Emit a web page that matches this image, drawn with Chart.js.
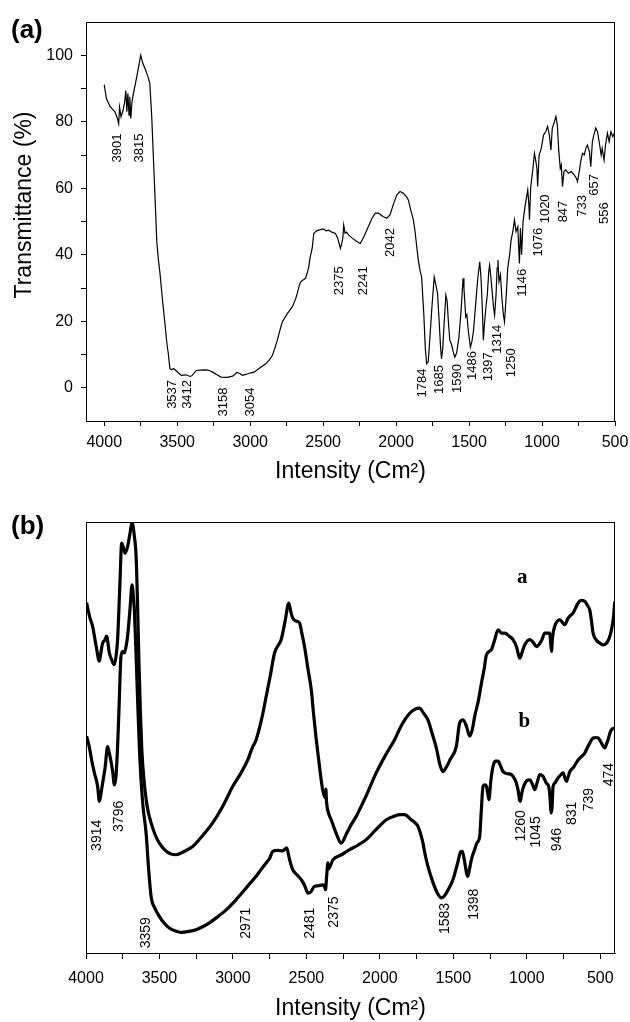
<!DOCTYPE html>
<html>
<head>
<meta charset="utf-8">
<script src="https://cdn.jsdelivr.net/npm/chart.js@4.4.1/dist/chart.umd.min.js"></script>
<style>
  html, body { margin: 0; padding: 0; background: #fff; }
  #wrap { position: relative; width: 630px; height: 1022px; }
  canvas { position: absolute; left: 0; }
  #chartA { top: 0; }
  #chartB { top: 490px; }
</style>
</head>
<body>
<div id="wrap">
  <canvas id="chartA" width="630" height="490"></canvas>
  <canvas id="chartB" width="630" height="532"></canvas>
</div>
<script>
// ---- panel (a): transmittance spectrum ----
const waveA = [4000, 3985, 3961, 3927, 3910, 3901, 3895, 3885, 3870, 3860, 3852, 3845, 3838, 3830, 3825, 3818, 3810, 3802,
  3775, 3750, 3735, 3718, 3700, 3688, 3675, 3662, 3650, 3640, 3630, 3618, 3600, 3584, 3570, 3561, 3550, 3537, 3525, 3500,
  3472, 3440, 3412, 3400, 3370, 3340, 3302, 3280, 3257, 3230, 3200, 3158, 3120, 3091, 3070, 3054, 3030, 2995, 2973, 2940,
  2893, 2870, 2848, 2830, 2814, 2795, 2780, 2750, 2712, 2690, 2678, 2665, 2655, 2640, 2620, 2600, 2590, 2575, 2564, 2545,
  2530, 2500, 2480, 2462, 2440, 2416, 2400, 2382, 2375, 2365, 2359, 2350, 2340, 2325, 2300, 2270, 2245, 2220, 2190, 2165,
  2143, 2120, 2090, 2064, 2042, 2020, 1995, 1973, 1950, 1930, 1916, 1900, 1882, 1870, 1860, 1848, 1835, 1825, 1810, 1800,
  1791, 1780, 1770, 1755, 1739, 1728, 1716, 1705, 1695, 1689, 1680, 1670, 1659, 1650, 1642, 1632, 1620, 1610, 1598, 1585,
  1570, 1555, 1541, 1535, 1523, 1515, 1505, 1491, 1480, 1470, 1455, 1440, 1427, 1418, 1410, 1402, 1395, 1385, 1375, 1365,
  1359, 1350, 1340, 1332, 1325, 1315, 1308, 1302, 1295, 1285, 1275, 1265, 1257, 1245, 1235, 1222, 1212, 1200, 1189, 1178,
  1166, 1160, 1155, 1148, 1140, 1130, 1115, 1098, 1090, 1086, 1078, 1065, 1052, 1042, 1035, 1030, 1020, 1005, 990, 975,
  962, 950, 939, 930, 915, 905, 895, 885, 875, 868, 860, 850, 837, 820, 800, 780, 765, 757, 745, 735, 723, 710, 700, 689,
  675, 666, 655, 645, 632, 620, 605, 595, 588, 575, 565, 552, 540, 528, 515, 500];
const transA = [91.1, 87, 84.6, 83, 81, 79.4, 84.4, 81.5, 83.6, 86, 89.4, 83, 88.5, 82, 87.5, 81, 86, 88,
  94, 100, 97.5, 95.7, 93.5, 91.6, 82, 68, 55, 44, 39, 34.4, 26, 19.3, 13, 10.3, 5.7, 5.4, 5.8, 4.8,
  3.7, 3.9, 3.4, 3.6, 5.2, 5.3, 5.4, 5.2, 4.7, 4.0, 3.2, 3.1, 3.5, 4.6, 4.3, 3.7, 4.0, 4.5, 4.7, 5.8,
  7.2, 8.3, 9.7, 12, 14.3, 17.5, 19.8, 22, 24.3, 26.5, 28.3, 30.5, 31.8, 32.3, 32.9, 36, 39, 42, 46.4, 47.2,
  47.4, 47.8, 47.2, 47.4, 46.8, 46.4, 45, 41.9, 43, 45, 48.9, 46.5, 46.8, 45.9, 45, 44, 43.4, 45.5, 48.5, 51,
  52.5, 52.5, 51.5, 51, 52, 55, 58, 59, 58.5, 57.5, 56.5, 53.5, 50.5, 47, 43, 38.4, 35, 33.3, 22, 12,
  7.2, 7.8, 14, 24, 33.3, 31, 28.3, 20, 12, 8.7, 12, 20, 27.8, 26, 20, 14.3, 13, 11, 9.2, 10.5,
  15, 23, 32.9, 30, 21.3, 22, 17, 12.2, 14, 17, 25, 33, 37.9, 33, 25, 14.3, 19, 24, 28, 35,
  36.9, 33, 28, 24, 21.8, 28, 36, 38.4, 32, 34, 27, 22, 19.8, 28, 36, 40, 44.4, 47, 50.5, 47,
  48.4, 42, 37.4, 48, 40, 50, 55, 59.5, 55, 50.5, 60, 65, 70.5, 68, 66, 60.5, 70, 72, 76, 77,
  78.6, 76, 71.5, 78, 80, 81.6, 79, 71, 66, 67, 60.5, 65, 65.5, 64.5, 65, 64, 63, 62, 65, 68, 70.5, 70, 72, 73,
  71, 66.5, 74, 76, 78.1, 77, 73, 70, 72, 68.5, 73, 76.6, 74, 77, 75.5, 77];

const xTicksA = [500, 750, 1000, 1250, 1500, 1750, 2000, 2250, 2500, 2750, 3000, 3250, 3500, 3750, 4000];
const yTicksA = [0, 10, 20, 30, 40, 50, 60, 70, 80, 90, 100];

// peak labels of (a): text, anchor wavenumber, anchor transmittance
const peakTextA = ['3901', '3815', '3537', '3412', '3158', '3054', '2375', '2241', '2042', '1784', '1685', '1590',
  '1486', '1397', '1314', '1250', '1146', '1076', '1020', '847', '733', '657', '556'];
const peakXA = [3913, 3762, 3536, 3427, 3180, 2995, 2386, 2221, 2036, 1817, 1701, 1577,
  1475, 1365, 1303, 1208, 1132, 1023, 975, 851, 721, 639, 571];
const peakYA = [72.1, 72.1, -2.0, -2.0, -4.3, -4.3, 32.2, 32.2, 43.7, 1.4, 2.5, 2.8,
  6.7, 6.3, 14.6, 7.5, 31.6, 43.8, 53.8, 53.0, 54.7, 61, 52.5];

// ---- panel (b): spectra a and b (offset, arbitrary units) ----
const waveBa = [3996, 3975, 3955, 3930, 3909, 3897, 3887, 3873, 3860, 3841, 3825, 3807, 3795, 3785, 3770, 3757, 3745,
  3734, 3717, 3700, 3687, 3672, 3659, 3650, 3640, 3630, 3620, 3605, 3590, 3575, 3557, 3530, 3501, 3450, 3387, 3330,
  3274, 3200, 3138, 3070, 3001, 2950, 2899, 2870, 2842, 2800, 2774, 2745, 2717, 2690, 2672, 2645, 2620, 2605, 2593,
  2570, 2547, 2530, 2513, 2490, 2467, 2450, 2433, 2410, 2390, 2372, 2368, 2363, 2350, 2331, 2300, 2263, 2230, 2200,
  2161, 2100, 2025, 1960, 1900, 1850, 1800, 1760, 1731, 1700, 1673, 1645, 1616, 1590, 1571, 1550, 1520, 1480, 1457,
  1434, 1410, 1389, 1370, 1355, 1330, 1309, 1290, 1275, 1241, 1220, 1196, 1173, 1150, 1120, 1094, 1070, 1048, 1030,
  1014, 980, 955, 935, 900, 878, 844, 838, 832, 826, 810, 776, 742, 719, 685, 651, 630, 606, 585, 572, 560, 549, 525,
  503, 480, 458, 440, 424, 410, 401];
const transBa = [81.3, 78, 75.8, 71, 67.7, 70, 71.9, 72.5, 73.5, 69.6, 68, 66.9, 69, 72.7, 85, 95.1, 94,
  92.8, 94.3, 97.5, 100, 97, 92, 82, 68, 56, 47, 40, 35.5, 32.5, 30.2, 27.5, 25.5, 23.5, 22.8, 23.6,
  24.7, 27.5, 30.2, 34, 38.7, 41.5, 44.8, 47.5, 49.5, 55, 59.5, 64.5, 69.6, 71.5, 72.7, 77, 81.2, 79, 77.7,
  77, 76.6, 74, 71.1, 66, 61.1, 55, 49.5, 43, 38, 36, 38, 35, 32.5, 30.9, 28, 25.5, 27.5, 29.5,
  31.7, 36, 41.8, 46, 49.5, 53, 55.5, 56.6, 56.8, 55.5, 54.1, 51, 47.6, 43.5, 42.1, 43, 45, 47.9, 53.4,
  54.1, 52.5, 50.3, 52, 54.9, 58.5, 62.6, 66, 69.2, 70.4, 72.5, 75, 74.2, 74.2, 73.5, 72.7, 71, 68.4, 70,
  71.5, 72.7, 72, 71.1, 72.5, 74.2, 74.2, 72, 70, 73, 75.8, 77.3, 76.2, 77.7, 78.9, 81.2, 81.8, 81.6, 80.5, 79.6, 77, 74.2, 72.5,
  71.9, 71.5, 71.9, 73, 75, 78, 81.6];

const waveBb = [3996, 3978, 3960, 3943, 3921, 3909, 3898, 3887, 3870, 3853, 3842, 3830, 3818, 3807, 3796, 3785, 3775,
  3762, 3750, 3739, 3728, 3717, 3700, 3687, 3678, 3671, 3660, 3648, 3636, 3625, 3612, 3591, 3575, 3557, 3530, 3501,
  3470, 3433, 3390, 3353, 3300, 3251, 3200, 3160, 3100, 3046, 2978, 2950, 2910, 2875, 2842, 2810, 2774, 2750, 2729,
  2700, 2661, 2634, 2620, 2605, 2593, 2560, 2535, 2510, 2490, 2470, 2445, 2420, 2388, 2378, 2370, 2362, 2354, 2350,
  2320, 2260, 2206, 2150, 2093, 2030, 1956, 1900, 1860, 1832, 1790, 1760, 1741, 1710, 1690, 1673, 1640, 1610, 1582,
  1560, 1530, 1503, 1470, 1450, 1439, 1425, 1410, 1401, 1390, 1375, 1355, 1340, 1321, 1310, 1298, 1285, 1275, 1266,
  1258, 1245, 1230, 1215, 1196, 1180, 1162, 1130, 1105, 1085, 1071, 1058, 1050, 1044, 1035, 1020, 1000, 980, 960,
  946, 930, 912, 890, 867, 850, 842, 836, 833, 828, 822, 810, 790, 770, 753, 740, 730, 718, 707, 680, 651, 630, 606,
  590, 572, 549, 530, 515, 492, 480, 469, 458, 447, 435, 424, 401];
const transBb = [50.3, 47.9, 44.5, 41.8, 38.7, 35.2, 37, 39.4, 43, 47.9, 46.5, 44.5, 42, 39, 41, 47.9, 57,
  68.8, 70, 69.6, 71, 73.5, 80, 85.4, 83, 79.7, 70, 58, 47, 40, 34, 27.8, 20, 13.1, 10.3, 8.5,
  7, 5.8, 5.1, 4.8, 5, 5.4, 6.2, 7, 8.5, 10, 12.4, 13.5, 15.1, 16.5, 17.8, 19.3, 20.9, 22, 23.6,
  23.8, 23.7, 24.4, 22.5, 20.5, 19.3, 18, 17, 15.5, 13.9, 14.2, 15.5, 15.6, 15.8, 15.5, 14.7, 18, 20.9, 19.5,
  21.6, 22.8, 24, 25, 26.3, 28.5, 30.9, 31.8, 32.1, 32.1, 31, 30.2, 29.4, 26, 22.5, 20.1, 16.5, 14, 12.8,
  13.3, 15, 17, 21, 23.5, 23.6, 21.5, 18.5, 17.8, 19.5, 22, 24, 25.5, 27, 33, 38.7, 39, 38.7, 37,
  35.6, 40, 43.3, 44.5, 44.5, 43.5, 42.1, 41.6, 41.4, 40.5, 39.4, 37.5, 35.5, 35.2, 37, 38.8, 40, 40.2, 39,
  37.9, 39.5, 41.4, 41, 39.4, 38.5, 36, 33, 32.5, 34, 38.5, 39.4, 40.5, 41.3, 41.8, 40.5, 39.8, 41, 42.1, 43.2, 44.8, 45.5, 46.4,
  47.5, 48.7, 49.9, 50, 49.9, 48.7, 48, 47.6, 48.5, 49.5, 51, 51.8, 52.2];

const xTicksB = [500, 750, 1000, 1250, 1500, 1750, 2000, 2250, 2500, 2750, 3000, 3250, 3500, 3750, 4000];

const peakTextB = ['3914', '3796', '3359', '2971', '2481', '2375', '1583', '1398', '1260', '1045', '946', '831', '739', '474'];
const peakXB = [3923, 3773, 3590, 2909, 2474, 2310, 1555, 1357, 1038, 935, 793, 690, 575, 439];
const peakYB = [27.3, 31.7, 4.7, 6.9, 6.9, 9.5, 8.0, 11.3, 29.5, 28.1, 26.3, 32.4, 35.6, 41.4];

const curveNames = ['a', 'b'];
const curveNameX = [1031, 1017];
const curveNameY = [87.2, 53.7];

// ---- helpers ----
const toPoints = (xs, ys) => xs.map((x, i) => ({ x, y: ys[i] }));
const SANS = '"Liberation Sans", Arial, sans-serif';
Chart.defaults.font.family = SANS;
Chart.defaults.color = '#000';

// box round the plot area (top and right sides have no ticks)
const framePlugin = {
  id: 'frame',
  afterDraw(chart) {
    const { ctx, chartArea: a } = chart;
    ctx.save();
    ctx.strokeStyle = '#000';
    ctx.lineWidth = 1;
    ctx.strokeRect(a.left + 0.5, a.top + 0.5, a.right - a.left - 1, a.bottom - a.top);
    ctx.restore();
  }
};

// rotated peak labels + panel tag, placed through the chart scales
function textPlugin(cfg) {
  return {
    id: 'texts',
    afterDraw(chart) {
      const { ctx, scales: { x, y } } = chart;
      ctx.save();
      ctx.fillStyle = '#000';
      ctx.textBaseline = 'middle';
      ctx.textAlign = 'center';
      ctx.font = cfg.peakFont;
      cfg.text.forEach((t, i) => {
        ctx.save();
        ctx.translate(x.getPixelForValue(cfg.xs[i]), y.getPixelForValue(cfg.ys[i]));
        ctx.rotate(-Math.PI / 2);
        ctx.fillText(t, 0, 0);
        ctx.restore();
      });
      if (cfg.names) {
        ctx.font = 'bold 21px "Liberation Serif", "Times New Roman", serif';
        cfg.names.forEach((t, i) => {
          ctx.fillText(t, x.getPixelForValue(cfg.nameX[i]), y.getPixelForValue(cfg.nameY[i]));
        });
      }
      if (cfg.yTitle) {
        ctx.font = '23px ' + SANS;
        ctx.save();
        ctx.translate(cfg.yTitle.x, cfg.yTitle.y);
        ctx.rotate(-Math.PI / 2);
        ctx.fillText(cfg.yTitle.text, 0, 0);
        ctx.restore();
      }
      ctx.font = 'bold 26px ' + SANS;
      ctx.textAlign = 'left';
      ctx.fillText(cfg.tag.text, cfg.tag.x, cfg.tag.y);
      ctx.restore();
    }
  };
}

function xAxis(min, max, tickList, tickLen, pad, titlePad) {
  return {
    type: 'linear',
    reverse: true,
    min, max,
    afterBuildTicks: s => { s.ticks = tickList.map(v => ({ value: v })); },
    afterFit: s => { s.height = 69; },
    ticks: {
      autoSkip: false, maxRotation: 0, padding: pad,
      font: { size: 16 }, color: '#000',
      callback: v => (v % 500 === 0 ? v : '')
    },
    grid: { drawOnChartArea: false, tickLength: tickLen, tickColor: '#000', color: '#000' },
    border: { color: '#000', width: 1 },
    title: {
      display: true, text: 'Intensity (Cm²)', color: '#000',
      font: { size: 23 }, padding: { top: 0, bottom: titlePad }
    }
  };
}

// ---- chart (a) ----
new Chart(document.getElementById('chartA'), {
  type: 'line',
  data: {
    datasets: [{
      data: toPoints(waveA, transA),
      borderColor: '#000', borderWidth: 1.2,
      pointRadius: 0, tension: 0, fill: false
    }]
  },
  options: {
    responsive: false, animation: false, devicePixelRatio: 1,
    layout: { padding: { top: 22, right: 15, left: 0, bottom: 0 } },
    plugins: { legend: { display: false }, tooltip: { enabled: false } },
    scales: {
      x: xAxis(500, 4125, xTicksA, 5, 7, 5),
      y: {
        min: -10, max: 110,
        afterBuildTicks: s => { s.ticks = yTicksA.map(v => ({ value: v })); },
        afterFit: s => { s.width = 86; },
        ticks: {
          autoSkip: false, padding: 8, font: { size: 16 }, color: '#000',
          callback: v => (v % 20 === 0 ? v : '')
        },
        grid: { drawOnChartArea: false, tickLength: 5, tickColor: '#000' },
        border: { color: '#000', width: 1 }
      }
    }
  },
  plugins: [framePlugin, textPlugin({
    text: peakTextA, xs: peakXA, ys: peakYA, peakFont: '13px ' + SANS,
    yTitle: { text: 'Transmittance (%)', x: 25, y: 205 },
    tag: { text: '(a)', x: 11, y: 31 }
  })]
});

// ---- chart (b) ----
new Chart(document.getElementById('chartB'), {
  type: 'line',
  data: {
    datasets: [
      { data: toPoints(waveBa, transBa), borderColor: '#000', borderWidth: 3.2,
        pointRadius: 0, cubicInterpolationMode: 'monotone', fill: false },
      { data: toPoints(waveBb, transBb), borderColor: '#000', borderWidth: 3.2,
        pointRadius: 0, cubicInterpolationMode: 'monotone', fill: false }
    ]
  },
  options: {
    responsive: false, animation: false, devicePixelRatio: 1,
    layout: { padding: { top: 32, right: 15, left: 86, bottom: 0 } },
    plugins: { legend: { display: false }, tooltip: { enabled: false } },
    scales: {
      x: xAxis(400, 4000, xTicksB, 6, 10, 0),
      y: { display: false, min: 0, max: 100 }
    }
  },
  plugins: [framePlugin, textPlugin({
    text: peakTextB, xs: peakXB, ys: peakYB, peakFont: '14px ' + SANS,
    names: curveNames, nameX: curveNameX, nameY: curveNameY,
    tag: { text: '(b)', x: 11, y: 37 }
  })]
});
</script>
</body>
</html>
